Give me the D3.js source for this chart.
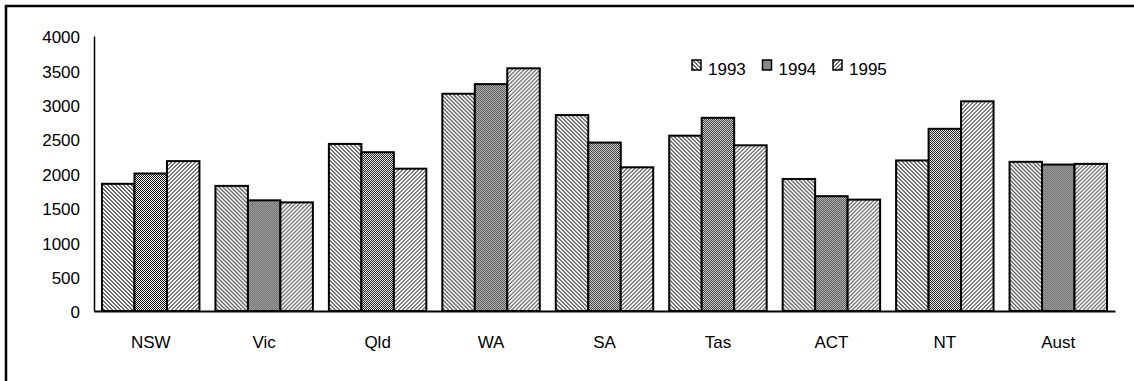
<!DOCTYPE html>
<html>
<head>
<meta charset="utf-8">
<script src="https://cdnjs.cloudflare.com/ajax/libs/d3/7.8.5/d3.min.js"></script>
<style>
	body { margin: 0; background: #fff; }
	text { font-family: "Liberation Sans", Arial, sans-serif; fill: #000; }
</style>
</head>
<body>
<div id="chart"></div>
<script>
const states = ["NSW", "Vic", "Qld", "WA", "SA", "Tas", "ACT", "NT", "Aust"];
const years = ["1993", "1994", "1995"];
const values1993 = [1850, 1820, 2430, 3160, 2850, 2550, 1920, 2190, 2170];
const values1994 = [2000, 1610, 2310, 3300, 2450, 2810, 1670, 2650, 2130];
const values1995 = [2180, 1580, 2070, 3530, 2090, 2410, 1620, 3050, 2140];
const yTicks = [0, 500, 1000, 1500, 2000, 2500, 3000, 3500, 4000];

const width = 1134, height = 381;
const margin = {top: 36, right: 19, bottom: 70, left: 94};

const series = [values1993, values1994, values1995];
const data = states.map((s, i) => ({state: s, vals: years.map((y, j) => ({year: y, value: series[j][i]}))}));

const svg = d3.select("#chart").append("svg")
	.attr("width", width)
	.attr("height", height);

// fill patterns: diagonal \\ , checker, diagonal //
const defs = svg.append("defs");
const pats = {
	"1993": {size: 4, rows: ["1100", "0110", "0011", "1001"], color: "#6a6a6a"},
	"1994": {size: 2, rows: ["10", "01"], color: "#111"},
	"1995": {size: 4, rows: ["0011", "0110", "1100", "1001"], color: "#7a7a7a"}
};
Object.keys(pats).forEach(k => {
	let p = pats[k];
	let cells = [];
	p.rows.forEach((r, y) => r.split("").forEach((c, x) => { if (c === "1") cells.push([x, y]); }));
	let pat = defs.append("pattern")
		.attr("id", "pat" + k)
		.attr("patternUnits", "userSpaceOnUse")
		.attr("width", p.size)
		.attr("height", p.size);
	pat.append("rect").attr("width", p.size).attr("height", p.size).attr("fill", "#fff");
	pat.selectAll("rect.px")
		.data(cells)
		.enter().append("rect")
		.attr("class", "px")
		.attr("x", d => d[0]).attr("y", d => d[1])
		.attr("width", 1).attr("height", 1)
		.attr("fill", p.color)
		.attr("shape-rendering", "crispEdges");
});

// outer frame
svg.append("rect")
	.attr("x", 6).attr("y", 6)
	.attr("width", width + 20).attr("height", height + 20)
	.attr("fill", "none")
	.attr("stroke", "#000")
	.attr("stroke-width", 2.5);

let scale = {
	x0: d3.scaleBand().domain(states).range([margin.left, width - margin.right]),
	y: d3.scaleLinear().domain([0, 4000]).range([311, margin.top])
};
scale.x1 = d3.scaleBand().domain(years).range([8, scale.x0.bandwidth() - 8]);

// y axis
let yAxis = svg.append("g")
	.attr("transform", `translate(${margin.left},0)`)
	.call(d3.axisLeft(scale.y).tickValues(yTicks).tickSize(0).tickPadding(14).tickFormat(d3.format("d")));
yAxis.select(".domain").attr("stroke", "#000").attr("stroke-width", 1.5);
yAxis.selectAll("text").attr("font-size", 17).attr("dy", "0.4em");

// bars
let groups = svg.selectAll(".state")
	.data(data)
	.enter().append("g")
	.attr("class", "state")
	.attr("transform", d => `translate(${scale.x0(d.state)},0)`);

groups.selectAll("rect")
	.data(d => d.vals)
	.enter().append("rect")
	.attr("x", d => scale.x1(d.year))
	.attr("y", d => scale.y(d.value))
	.attr("width", scale.x1.bandwidth())
	.attr("height", d => scale.y(0) - scale.y(d.value))
	.attr("fill", d => `url(#pat${d.year})`)
	.attr("stroke", "#000")
	.attr("stroke-width", 2);

// x axis
let xAxis = svg.append("g")
	.attr("transform", `translate(0,${scale.y(0)})`)
	.call(d3.axisBottom(scale.x0).tickSize(0).tickPadding(25));
xAxis.select(".domain").attr("stroke", "#000").attr("stroke-width", 2);
xAxis.selectAll("text").attr("font-size", 17);

// legend
let legend = svg.append("g").attr("transform", "translate(692,60)");
let items = legend.selectAll("g")
	.data(years)
	.enter().append("g")
	.attr("transform", (d, i) => `translate(${i * 70.5},0)`);
items.append("rect")
	.attr("width", 9).attr("height", 10)
	.attr("fill", d => `url(#pat${d})`)
	.attr("stroke", "#000")
	.attr("stroke-width", 1.5);
items.append("text")
	.attr("x", 16).attr("y", 15)
	.attr("font-size", 17)
	.text(d => d);
</script>
</body>
</html>
